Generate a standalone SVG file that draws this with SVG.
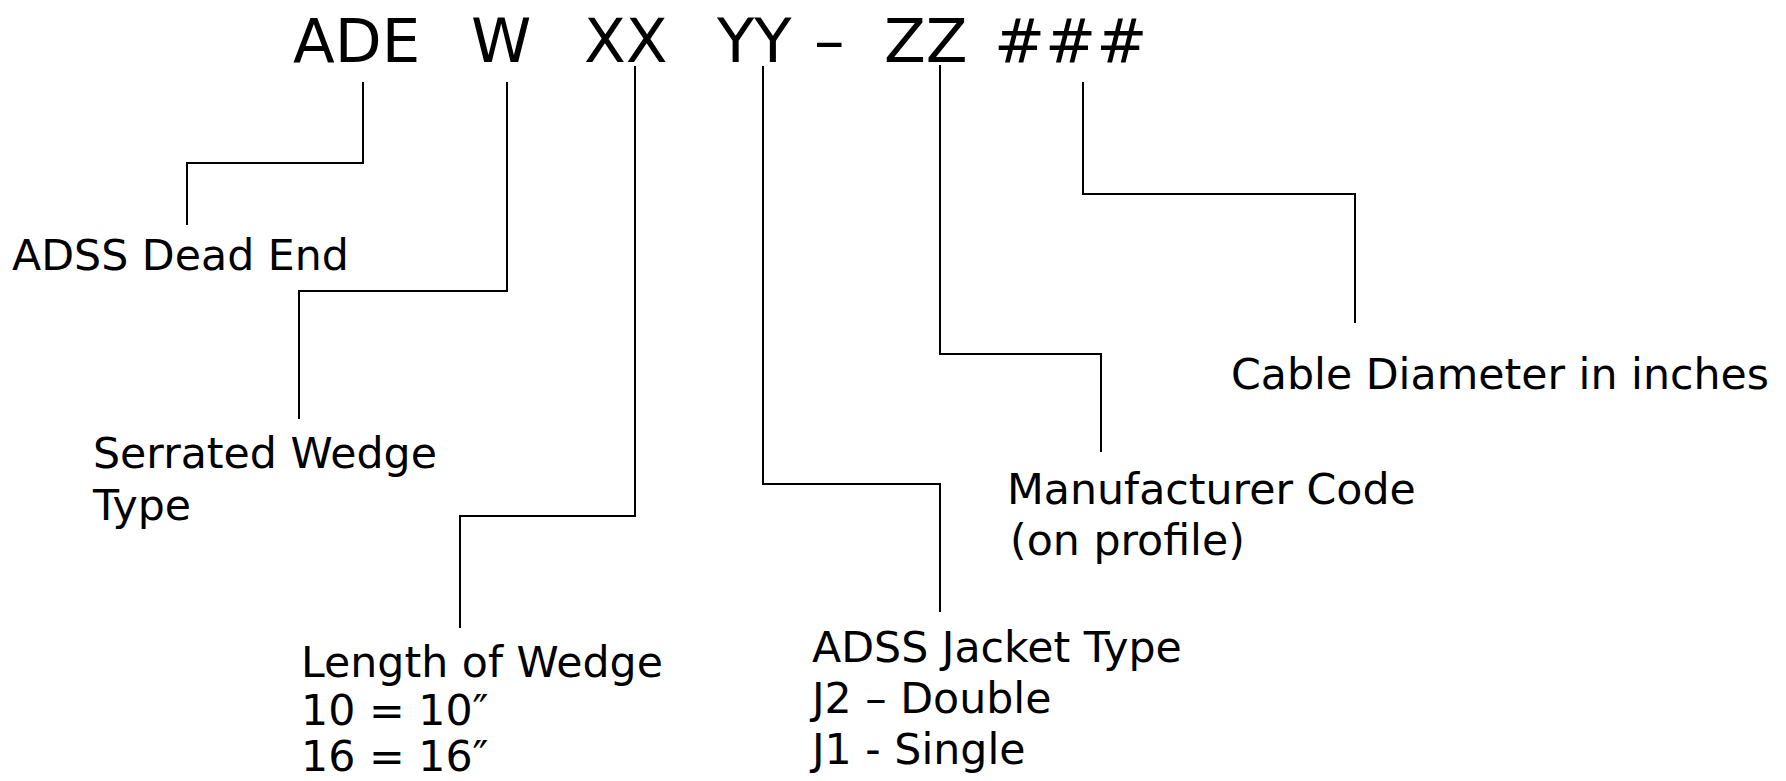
<svg xmlns="http://www.w3.org/2000/svg" width="1786" height="781" viewBox="0 0 1786 781">
<style>
.t{font-family:"DejaVu Sans","Liberation Sans",sans-serif;fill:#000}
.title{font-size:61px}
.lbl{font-size:42.7px}
.c{fill:none;stroke:#000;stroke-width:2}
</style>
<rect width="1786" height="781" fill="#fff"/>
<g id="title">
<text class="t title" y="62"><tspan x="293">ADE</tspan><tspan x="471">W</tspan><tspan x="584">XX</tspan><tspan x="717">YY</tspan><tspan x="814">–</tspan><tspan x="884">ZZ</tspan><tspan x="994">###</tspan></text>
</g>
<g id="connectors">
<path class="c" d="M363 82 V163 H187 V225"/>
<path class="c" d="M507 82 V291 H299 V419"/>
<path class="c" d="M635 66 V516 H460 V628"/>
<path class="c" d="M763 66 V484 H940 V612"/>
<path class="c" d="M940 65 V354 H1101 V452"/>
<path class="c" d="M1083 82 V194 H1355 V323"/>
</g>
<g id="node-ade"><text class="t lbl" x="12" y="270">ADSS Dead End</text></g>
<g id="node-w"><text class="t lbl"><tspan x="93" y="468">Serrated Wedge</tspan><tspan x="93" y="520">Type</tspan></text></g>
<g id="node-xx"><text class="t lbl"><tspan x="301" y="677">Length of Wedge</tspan><tspan x="301" y="725">10 = 10″</tspan><tspan x="301" y="771">16 = 16″</tspan></text></g>
<g id="node-yy"><text class="t lbl"><tspan x="812" y="662">ADSS Jacket Type</tspan><tspan x="812" y="713">J2 – Double</tspan><tspan x="812" y="764">J1 - Single</tspan></text></g>
<g id="node-zz"><text class="t lbl"><tspan x="1007" y="504">Manufacturer Code</tspan><tspan x="1010" y="555">(on profile)</tspan></text></g>
<g id="node-num"><text class="t lbl" x="1231" y="389">Cable Diameter in inches</text></g>
</svg>
